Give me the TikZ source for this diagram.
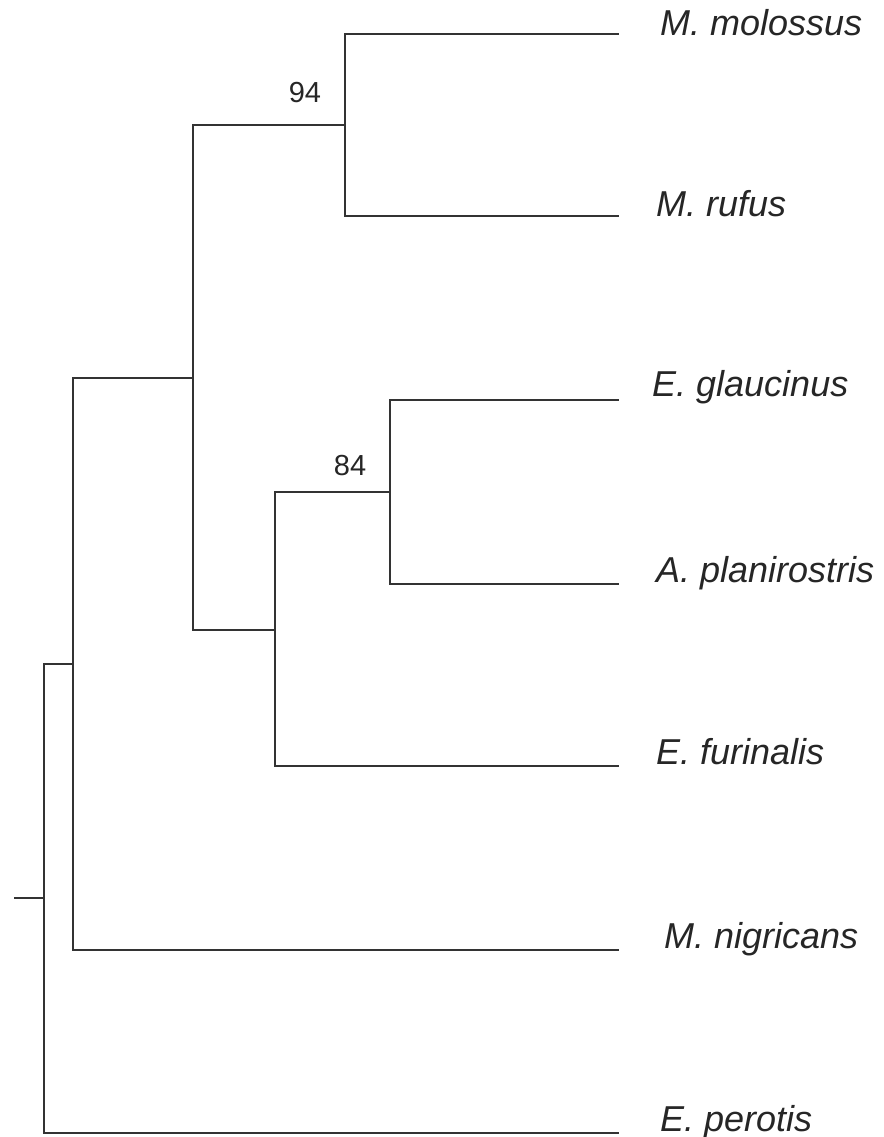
\documentclass[tikz,border=0pt]{standalone}
\usepackage{fontspec}
\setmainfont{Liberation Sans}
\usepackage{tikz}

\begin{document}
\begin{tikzpicture}[x=1pt,y=-1pt]
\tikzstyle{branch} = [line width=2.4pt,color=black!80]
\tikzstyle{taxon} = [anchor=base west,inner sep=0pt,color=black!85,font=\fontsize{36}{40}\selectfont\itshape]
\tikzstyle{support} = [inner sep=0pt,color=black!85,font=\fontsize{29}{32}\selectfont]
\useasboundingbox (0,0) rectangle (883,1137);
% internal nodes
\coordinate (stem) at (14,898);
\coordinate (n0) at (44,898);
\coordinate (nA) at (73,664);
\coordinate (nB) at (193,378);
\coordinate (nC) at (345,125);
\coordinate (nD) at (275,630);
\coordinate (nE) at (390,492);
% tips
\coordinate (molossus) at (619,34);
\coordinate (rufus) at (619,216);
\coordinate (glaucinus) at (619,400);
\coordinate (planirostris) at (619,584);
\coordinate (furinalis) at (619,766);
\coordinate (nigricans) at (619,950);
\coordinate (perotis) at (619,1133);
% branches
\draw[branch] (stem) -- (n0);
\draw[branch] (n0) |- (nA);
\draw[branch] (n0) |- (perotis);
\draw[branch] (nA) |- (nB);
\draw[branch] (nA) |- (nigricans);
\draw[branch] (nB) |- (nC);
\draw[branch] (nB) |- (nD);
\draw[branch] (nC) |- (molossus);
\draw[branch] (nC) |- (rufus);
\draw[branch] (nD) |- (nE);
\draw[branch] (nD) |- (furinalis);
\draw[branch] (nE) |- (glaucinus);
\draw[branch] (nE) |- (planirostris);
% labels
\node[taxon] (lmolossus) at (660,36) {M. molossus};
\node[taxon] (lrufus) at (656,216) {M. rufus};
\node[taxon] (lglaucinus) at (652,396) {E. glaucinus};
\node[taxon] (lplanirostris) at (656,582) {A. planirostris};
\node[taxon] (lfurinalis) at (656,764) {E. furinalis};
\node[taxon] (lnigricans) at (664,948) {M. nigricans};
\node[taxon] (lperotis) at (660,1131) {E. perotis};
\node[support] (bs94) at (305,93) {94};
\node[support] (bs84) at (350,466) {84};
\end{tikzpicture}
\end{document}
